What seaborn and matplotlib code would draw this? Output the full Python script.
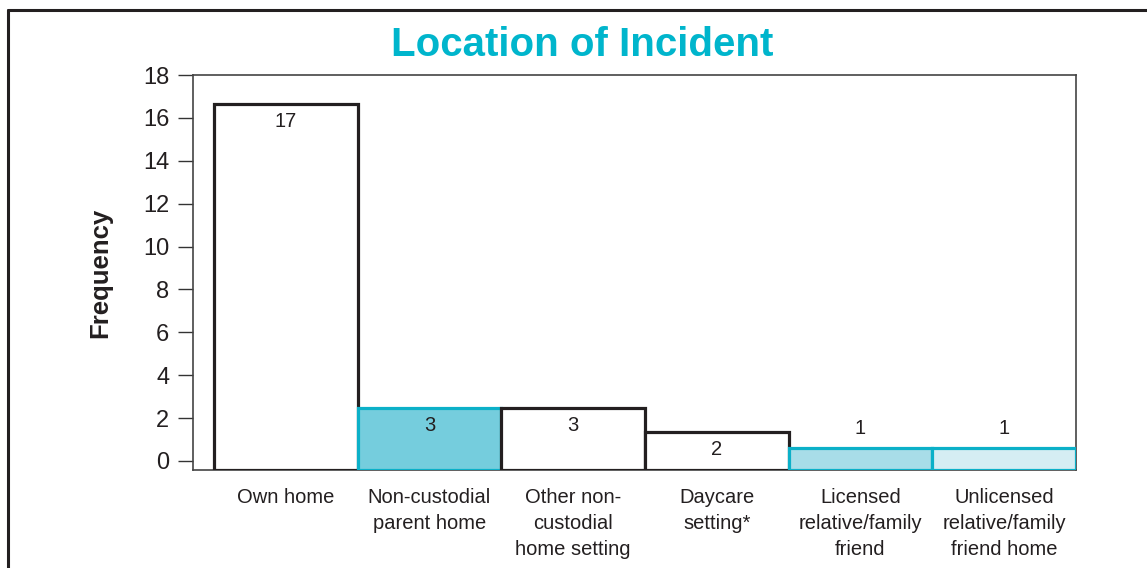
import matplotlib
matplotlib.use('Agg')
import matplotlib.pyplot as plt
from matplotlib.lines import Line2D
import seaborn as sns

# Data
categories = ['Own home', 'Non-custodial\nparent home', 'Other non-\ncustodial\nhome setting',
              'Daycare\nsetting*', 'Licensed\nrelative/family\nfriend', 'Unlicensed\nrelative/family\nfriend home']
counts = [17, 3, 3, 2, 1, 1]                       # printed labels
bar_tops = [16.65, 2.47, 2.47, 1.35, 0.61, 0.61]   # where the bars end on the axis
baseline = -0.42
y_ticks = [0, 2, 4, 6, 8, 10, 12, 14, 16, 18]

fill_colors = ['#ffffff', '#75cddd', '#ffffff', '#ffffff', '#a8dde8', '#d5edf3']
edge_colors = ['#231f20', '#0bb0c8', '#231f20', '#231f20', '#0bb0c8', '#0bb0c8']

dark = '#231f20'
teal = '#00b5cc'

sns.set_style('white')
plt.rcParams['font.family'] = ['Liberation Sans', 'DejaVu Sans']

fig = plt.figure(figsize=(11.47, 5.68), dpi=100)
ax = fig.add_axes([193 / 1147, 1 - 470 / 568, 883 / 1147, 395 / 568])

sns.barplot(x=list(range(len(categories))), y=bar_tops, hue=list(range(len(categories))),
            palette=fill_colors, legend=False, width=1.0, ax=ax, saturation=1)

for patch, top, ec in zip(ax.patches, bar_tops, edge_colors):
    patch.set_y(baseline)
    patch.set_height(top - baseline)
    patch.set_edgecolor(ec)
    patch.set_linewidth(2.3)
    patch.set_zorder(3)

# value labels
for i, (top, n) in enumerate(zip(bar_tops, counts)):
    if n >= 2:
        ax.annotate(str(n), (i, top), xytext=(0, -6), textcoords='offset points',
                    ha='center', va='top', fontsize=14.5, color=dark, zorder=4)
    else:
        ax.annotate(str(n), (i, top), xytext=(0, 7), textcoords='offset points',
                    ha='center', va='bottom', fontsize=14.5, color=dark, zorder=4)

ax.set_xlim(-0.646, 5.5)
ax.set_ylim(baseline, 18)
ax.set_yticks(y_ticks)
ax.set_yticklabels([str(t) for t in y_ticks], fontsize=17, color=dark)
ax.set_xticks(range(len(categories)))
ax.set_xticklabels(categories, fontsize=14.5, color=dark, linespacing=1.45)
ax.tick_params(axis='x', length=0, pad=13)
ax.tick_params(axis='y', length=11, width=1, color='#333333', pad=6, left=True)

for side in ['left', 'top', 'right', 'bottom']:
    ax.spines[side].set_color('#444444')
    ax.spines[side].set_linewidth(1.2)

ax.set_ylabel('Frequency', fontsize=18.5, fontweight='bold', color=dark)
ax.yaxis.set_label_coords(-0.092, 0.5)

fig.text(0.508, 1 - 45 / 568, 'Location of Incident', fontsize=29, fontweight='bold',
         color=teal, ha='center', va='center')

# outer frame (top and left edges only visible)
fig.add_artist(Line2D([8 / 1147, 1], [1 - 10 / 568, 1 - 10 / 568], transform=fig.transFigure,
                      color=dark, linewidth=2.2))
fig.add_artist(Line2D([8 / 1147, 8 / 1147], [0, 1 - 10 / 568], transform=fig.transFigure,
                      color=dark, linewidth=2.2))

fig.savefig('out.png', dpi=100)
